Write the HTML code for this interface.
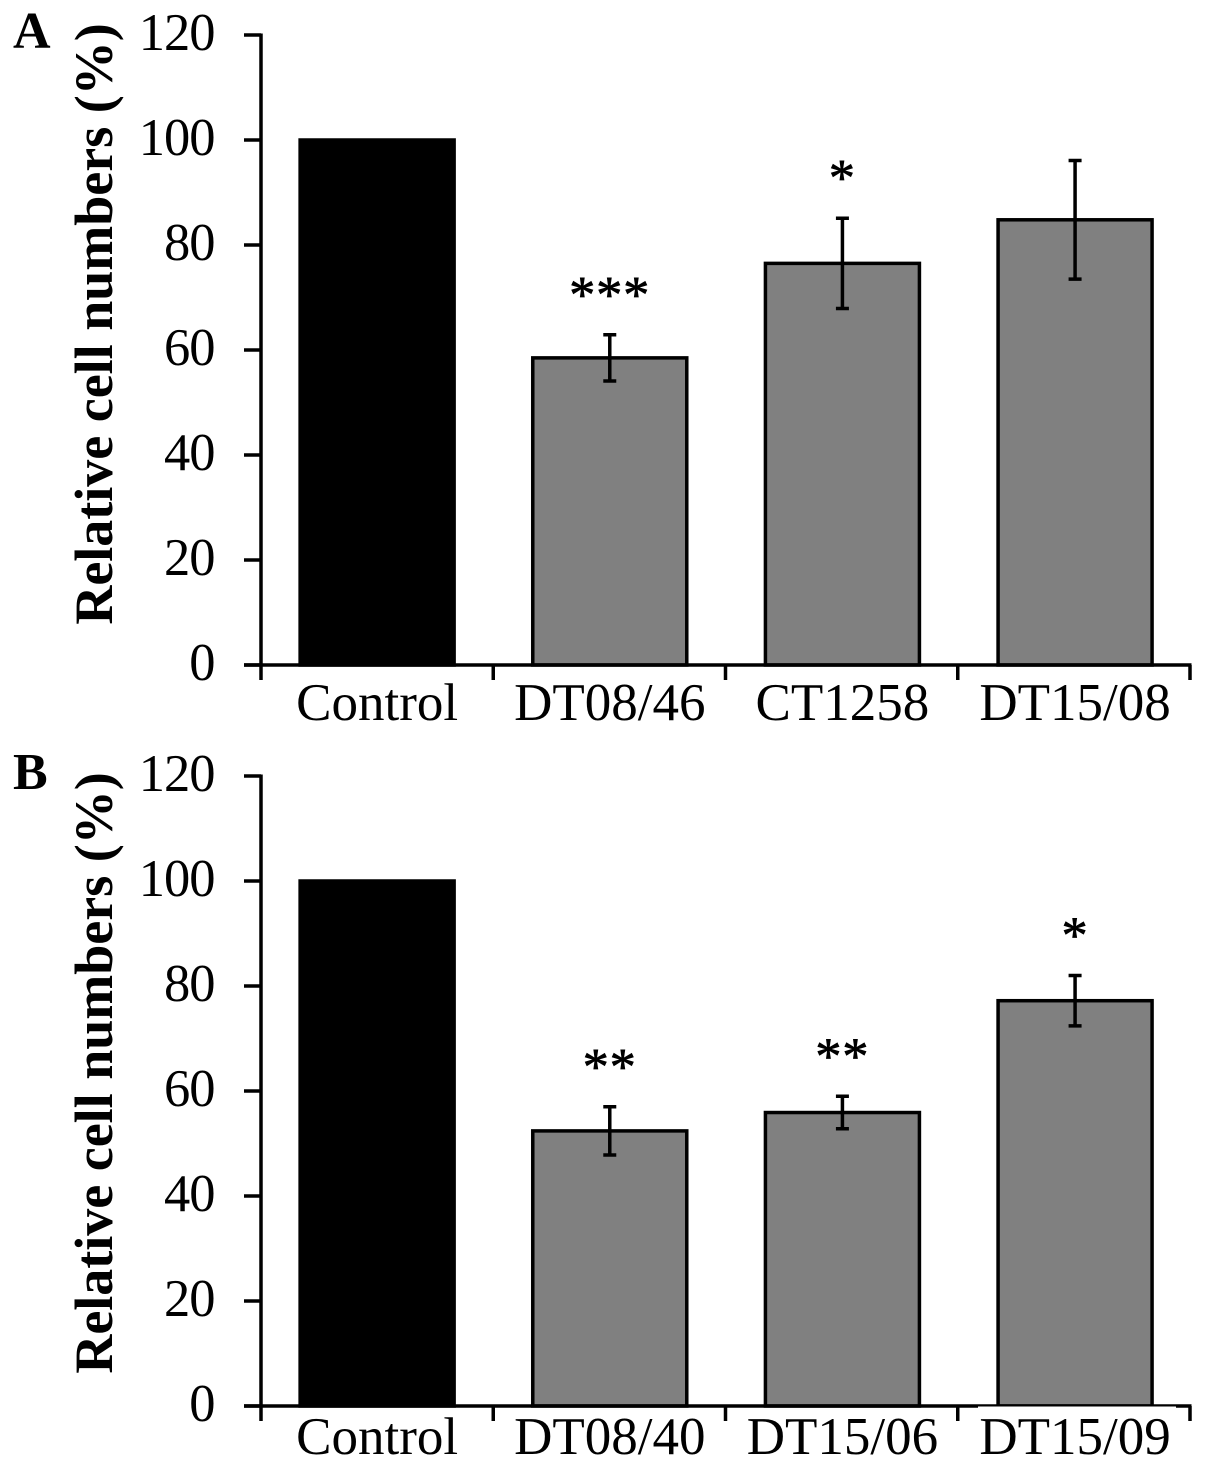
<!DOCTYPE html>
<html>
<head>
<meta charset="utf-8">
<style>
html,body{margin:0;padding:0;background:#fff;}
svg{display:block;}
text{font-family:"Liberation Serif",serif;fill:#000;}
</style>
</head>
<body>
<svg id="chart" width="1205" height="1468" viewBox="0 0 1205 1468" xmlns="http://www.w3.org/2000/svg"></svg>
<script>
const yTicks = [0, 20, 40, 60, 80, 100, 120];
const categoriesA = ["Control", "DT08/46", "CT1258", "DT15/08"];
const valuesA = [100, 58.5, 76.5, 84.8];
const errorsA = [0, 4.4, 8.6, 11.3];
const starsA = ["", "***", "*", ""];
const categoriesB = ["Control", "DT08/40", "DT15/06", "DT15/09"];
const valuesB = [100, 52.4, 55.9, 77.2];
const errorsB = [0, 4.6, 3.1, 4.8];
const starsB = ["", "**", "**", "*"];

const NS = "http://www.w3.org/2000/svg";
const svg = document.getElementById("chart");

function add(parent, tag, attrs, txt) {
  const el = document.createElementNS(NS, tag);
  for (const k in attrs) el.setAttribute(k, attrs[k]);
  if (txt !== undefined) el.textContent = txt;
  parent.appendChild(el);
  return el;
}

function drawPanel(letter, letterY, y0, y120, titleCenter, labelOffset, maskLabels, categories, values, errors, stars) {
  const left = 261, right = 1190;
  const sw = 3.5;
  const yScale = v => y0 + (y120 - y0) * v / 120;
  const band = (right - left) / categories.length;
  const xCenter = i => left + band * (i + 0.5) + 0.4 * i;
  const barW = 154;

  const g = add(svg, "g", {});
  
  

  const lab = add(g, "text", {x: 13, y: letterY, "font-size": 52, "font-weight": "bold"}, letter);
  
  

  const title = add(g, "text", {x: 112, y: titleCenter, "font-size": 54, "font-weight": "bold", "text-anchor": "middle", transform: "rotate(-90 112 " + titleCenter + ")"}, "Relative cell numbers (%)");
  
  

  values.forEach((v, i) => {
    const isControl = i === 0;
    const top = yScale(v);
    const bar = add(g, "rect", {x: xCenter(i) - barW / 2, y: top, width: barW, height: y0 - top, fill: isControl ? "#000" : "#808080", stroke: "#000", "stroke-width": sw});
    
    

    if (errors[i] > 0) {
      const hi = yScale(v + errors[i]), lo = yScale(v - errors[i]), c = xCenter(i);
      const eb = add(g, "path", {d: "M" + c + " " + hi + "V" + lo + "M" + (c - 6.5) + " " + hi + "H" + (c + 6.5) + "M" + (c - 6.5) + " " + lo + "H" + (c + 6.5), stroke: "#000", "stroke-width": sw, fill: "none"});
      
      
      if (stars[i]) {
        const st = add(g, "text", {x: c, y: hi - 45 + 22, "font-size": 52, "text-anchor": "middle", "letter-spacing": 1, stroke: "#000", "stroke-width": 0.8}, stars[i]);
        
        
      }
    }
  });

  const yAxis = add(g, "line", {x1: left, x2: left, y1: yScale(120) - 1.5, y2: y0, stroke: "#000", "stroke-width": sw});
  
  

  const xAxis = add(g, "line", {x1: left - 17, x2: right + 1.5, y1: y0, y2: y0, stroke: "#000", "stroke-width": sw});
  
  

  yTicks.forEach(t => {
    const y = yScale(t);
    const tick = add(g, "line", {x1: left - 17, x2: left, y1: y, y2: y, stroke: "#000", "stroke-width": sw});
    
    
    const tl = add(g, "text", {x: 214.5, y: y + 15, "font-size": 52.5, "letter-spacing": -1, "text-anchor": "end"}, String(t));
    
    
  });

  for (let i = 0; i <= categories.length; i++) {
    const x = left + band * i;
    const tick = add(g, "line", {x1: x, x2: x, y1: y0, y2: y0 + 15, stroke: "#000", "stroke-width": sw});
    
    
  }

  if (maskLabels) {
    const mask = add(g, "rect", {x: 978, y: y0 + 0.5, width: 198, height: 60, fill: "#fff"});
    
    
  }

  categories.forEach((name, i) => {
    const xl = add(g, "text", {x: xCenter(i), y: y0 + labelOffset, "font-size": 53, "text-anchor": "middle"}, name);
    
    
  });
}

drawPanel("A", 48, 665, 35, 324, 55, false, categoriesA, valuesA, errorsA, starsA);
drawPanel("B", 789, 1406, 776, 1073, 48, true, categoriesB, valuesB, errorsB, starsB);
</script>
</body>
</html>
